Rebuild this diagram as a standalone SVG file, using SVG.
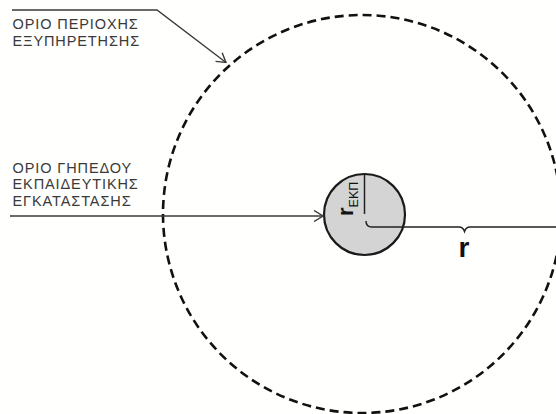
<svg xmlns="http://www.w3.org/2000/svg" width="556" height="414" viewBox="0 0 556 414">
<defs>
<style>
.lbl{font-family:"Liberation Sans",Arial,sans-serif;font-size:14.5px;fill:#3a3a3a;letter-spacing:0.9px}
.lead{fill:none;stroke:#3a3a3a;stroke-width:1.4}
.dim{fill:none;stroke:#222;stroke-width:1.5}
</style>
<marker id="chev" viewBox="0 0 12 12" refX="11" refY="6" markerWidth="12" markerHeight="12" markerUnits="userSpaceOnUse" orient="auto">
<path d="M2,0.5 L11,6 L2,11.5" fill="none" stroke="#3a3a3a" stroke-width="1.4"/>
</marker>
</defs>
<rect width="556" height="414" fill="#fffffd"/>
<g id="service-area">
<circle cx="362" cy="214" r="199" fill="none" stroke="#111" stroke-width="2.6" stroke-dasharray="9,5"/>
</g>
<g id="school-site">
<circle cx="364.5" cy="214.5" r="40.5" fill="#d4d4d4" stroke="#1a1a1a" stroke-width="2.2"/>
</g>
<g id="label-service-area">
<text class="lbl" x="12.5" y="29">ΟΡΙΟ ΠΕΡΙΟΧΗΣ</text>
<text class="lbl" x="12.5" y="45.5">ΕΞΥΠΗΡΕΤΗΣΗΣ</text>
</g>
<g id="label-school-site">
<text class="lbl" x="12.5" y="172.5">ΟΡΙΟ ΓΗΠΕΔΟΥ</text>
<text class="lbl" x="12.5" y="189">ΕΚΠΑΙΔΕΥΤΙΚΗΣ</text>
<text class="lbl" x="12.5" y="205.5">ΕΓΚΑΤΑΣΤΑΣΗΣ</text>
</g>
<g id="connectors">
<polyline class="lead" points="12,10 157,10 226,62.5" marker-end="url(#chev)"/>
<line class="lead" x1="10" y1="216" x2="323" y2="216" marker-end="url(#chev)"/>
<line class="dim" x1="364.5" y1="174" x2="364.5" y2="214"/>
<path class="dim" d="M366,221 Q366,227 372,227 L459,227 Q463,227 464.5,231.5 Q466,227 470,227 L556,227"/>
</g>
<g id="radius-labels">
<text x="464" y="257" text-anchor="middle" font-family="'Liberation Sans',Arial,sans-serif" font-weight="bold" font-size="28" fill="#111">r</text>
<text transform="translate(353,216) rotate(-90)" font-family="'Liberation Sans',Arial,sans-serif" fill="#111"><tspan font-weight="bold" font-size="22">r</tspan><tspan font-size="12.5" dy="5">ΕΚΠ</tspan></text>
</g>
</svg>
